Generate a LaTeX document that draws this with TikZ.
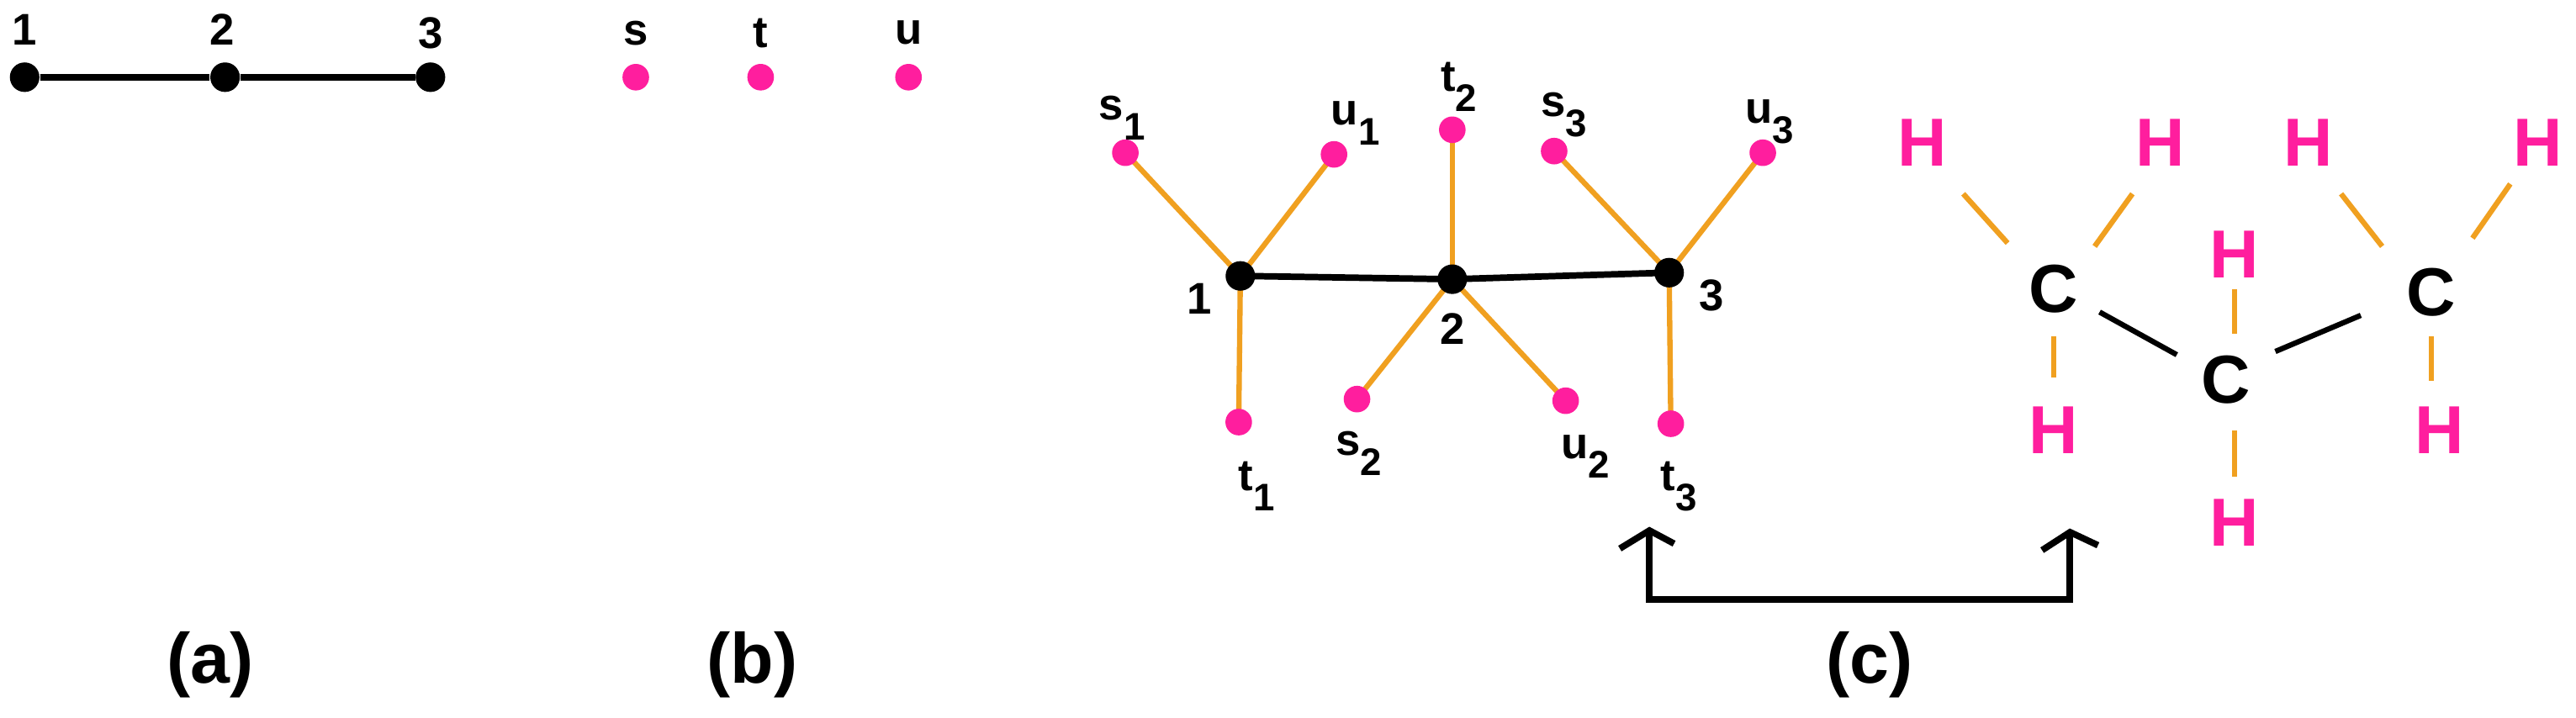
\documentclass[tikz,border=0pt]{standalone}
\usepackage{fontspec}
\setmainfont{Liberation Sans}
\definecolor{pk}{HTML}{FF1E9E}
\definecolor{og}{HTML}{F0A020}
\newcommand{\sbx}[1]{\raisebox{-0.45em}{\fontsize{13}{13}\selectfont #1}}
\begin{document}
\begin{tikzpicture}[x=0.01953cm,y=-0.01953cm,
  bd/.style={circle,fill=black,inner sep=0pt,minimum size=10pt},
  pd/.style={circle,fill=pk,inner sep=0pt,minimum size=9pt},
  lb/.style={font=\bfseries\fontsize{15}{15}\selectfont,inner sep=0pt},
  captxt/.style={font=\bfseries\fontsize{24}{24}\selectfont,inner sep=0pt},
  atm/.style={font=\bfseries\fontsize{23}{23}\selectfont,inner sep=1pt},
  ob/.style={og,line width=1.8pt},
  kb/.style={black,line width=2.2pt}]
\useasboundingbox (0,0) rectangle (1568,437);
% (a)
\node[bd] (a1) at (15,47) {};
\node[bd] (a2) at (137,47) {};
\node[bd] (a3) at (262,47) {};
\draw[kb] (a1) -- (a2) -- (a3);
\node[lb] (la1) at (15,18) {1};
\node[lb] (la2) at (135,18) {2};
\node[lb] (la3) at (262,20) {3};
\node[captxt] (ca) at (128,405) {(a)};
% (b)
\node[pd] (bs) at (387,47) {};
\node[pd] (bt) at (463,47) {};
\node[pd] (bu) at (553,47) {};
\node[lb] (ls) at (387,20) {s};
\node[lb] (lt) at (463,20) {t};
\node[lb] (lu) at (553,20) {u};
\node[captxt] (cb) at (458,405) {(b)};
% (c)
\coordinate (s1) at (685,93);
\coordinate (u1) at (812,94);
\coordinate (t1) at (754,257);
\coordinate (t2) at (884,79);
\coordinate (s2) at (826,243);
\coordinate (u2) at (953,244);
\coordinate (s3) at (946,92);
\coordinate (u3) at (1073,93);
\coordinate (t3) at (1017,258);
\coordinate (n1) at (755,168);
\coordinate (n2) at (884,170);
\coordinate (n3) at (1016,166);
\draw[ob] (s1) -- (n1) -- (u1);
\draw[ob] (t1) -- (n1);
\draw[ob] (t2) -- (n2);
\draw[ob] (s2) -- (n2) -- (u2);
\draw[ob] (s3) -- (n3) -- (u3);
\draw[ob] (t3) -- (n3);
\draw[kb] (n1) -- (n2) -- (n3);
\foreach \n in {n1,n2,n3}{\node[bd] at (\n) {};}
\foreach \n in {s1,u1,t1,t2,s2,u2,s3,u3,t3}{\node[pd] at (\n) {};}
\node[lb] (ls1) at (683,72) {s\sbx{1}};
\node[lb] (lu1) at (825,75) {u\sbx{1}};
\node[lb] (l1) at (730,182) {1};
\node[lb] (lt1) at (765,296) {t\sbx{1}};
\node[lb] (lt2) at (888,53) {t\sbx{2}};
\node[lb] (ls2) at (827,276) {s\sbx{2}};
\node[lb] (l2) at (884,200) {2};
\node[lb] (lu2) at (965,278) {u\sbx{2}};
\node[lb] (ls3) at (952,70) {s\sbx{3}};
\node[lb] (lu3) at (1077,74) {u\sbx{3}};
\node[lb] (l3) at (1042,180) {3};
\node[lb] (lt3) at (1022,296) {t\sbx{3}};
\node[captxt] (cc) at (1138,405) {(c)};
% molecule
\node[atm] (C1) at (1250,176) {C};
\node[atm] (C2) at (1355,231) {C};
\node[atm] (C3) at (1480,178) {C};
\node[atm,pk] (H1) at (1170,87) {H};
\node[atm,pk] (H2) at (1315,87) {H};
\node[atm,pk] (H3) at (1250,262) {H};
\node[atm,pk] (H4) at (1360,155) {H};
\node[atm,pk] (H5) at (1360,318) {H};
\node[atm,pk] (H6) at (1405,87) {H};
\node[atm,pk] (H7) at (1545,87) {H};
\node[atm,pk] (H8) at (1485,262) {H};
\coordinate (b1a) at (1195,118); \coordinate (b1b) at (1222,148);
\coordinate (b2a) at (1298,118); \coordinate (b2b) at (1275,150);
\coordinate (b3a) at (1250,205); \coordinate (b3b) at (1250,230);
\coordinate (b4a) at (1360,176); \coordinate (b4b) at (1360,203);
\coordinate (b5a) at (1360,262); \coordinate (b5b) at (1360,290);
\coordinate (b6a) at (1425,118); \coordinate (b6b) at (1450,150);
\coordinate (b7a) at (1528,112); \coordinate (b7b) at (1505,145);
\coordinate (b8a) at (1480,205); \coordinate (b8b) at (1480,232);
\foreach \i in {1,...,8}{\draw[ob] (b\i a) -- (b\i b);}
\coordinate (k1a) at (1278,190); \coordinate (k1b) at (1325,216);
\coordinate (k2a) at (1385,214); \coordinate (k2b) at (1437,192);
\draw[black,line width=1.8pt] (k1a) -- (k1b) (k2a) -- (k2b);
% arrow
\coordinate (p1) at (1004,323); \coordinate (p2) at (1004,365);
\coordinate (p3) at (1260,365); \coordinate (p4) at (1260,324);
\coordinate (h1) at (986,334); \coordinate (h2) at (1019,331);
\coordinate (h3) at (1243,335); \coordinate (h4) at (1277,332);
\draw[kb] (p1) -- (p2) -- (p3) -- (p4);
\draw[kb] (h1) -- (p1) -- (h2);
\draw[kb] (h3) -- (p4) -- (h4);
\end{tikzpicture}
\end{document}
